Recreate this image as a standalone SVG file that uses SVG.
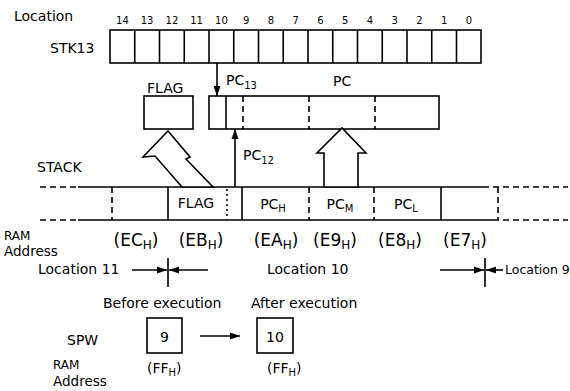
<svg xmlns="http://www.w3.org/2000/svg" width="570" height="391" viewBox="0 0 570 391">
<style>
text{font-family:"DejaVu Sans","Liberation Sans",sans-serif;fill:#000}
.t{font-size:14px}
.n{font-size:10px;text-anchor:middle}
.a{font-size:17px;text-anchor:middle}
.s{font-size:14px;text-anchor:middle}
.box{fill:#fff;stroke:#000;stroke-width:1.6}
.ln{stroke:#000;stroke-width:1.6;fill:none}
.dl{stroke:#000;stroke-width:1.6;fill:none;stroke-dasharray:6 4}
.dt{stroke:#000;stroke-width:1.6;fill:none;stroke-dasharray:2 3}
.fat{fill:#fff;stroke:#000;stroke-width:1.6;stroke-linejoin:miter}
</style>
<defs>
<marker id="ah" markerUnits="userSpaceOnUse" markerWidth="10" markerHeight="8" refX="10" refY="4" orient="auto">
<path d="M0,0.5 L10,4 L0,7.5 z" fill="#000"/>
</marker>
</defs>
<rect width="570" height="391" fill="#fff"/>

<g id="labels">
<text class="t" x="14" y="21">Location</text>
<text class="t" x="50" y="53">STK13</text>
<text class="t" x="37" y="172">STACK</text>
<text class="t" x="4" y="240" style="font-size:12px">RAM</text>
<text class="t" x="4" y="256" style="font-size:13.5px">Address</text>
<text class="t" x="67" y="345">SPW</text>
<text class="t" x="53" y="369" style="font-size:12px">RAM</text>
<text class="t" x="53" y="386" style="font-size:13.5px">Address</text>
</g>

<g id="stk13">
<g id="stk13-numbers">
<text class="n" x="122.4" y="24">14</text>
<text class="n" x="147.1" y="24">13</text>
<text class="n" x="171.9" y="24">12</text>
<text class="n" x="196.6" y="24">11</text>
<text class="n" x="221.4" y="24">10</text>
<text class="n" x="246.1" y="24">9</text>
<text class="n" x="270.9" y="24">8</text>
<text class="n" x="295.6" y="24">7</text>
<text class="n" x="320.4" y="24">6</text>
<text class="n" x="345.1" y="24">5</text>
<text class="n" x="369.9" y="24">4</text>
<text class="n" x="394.6" y="24">3</text>
<text class="n" x="419.4" y="24">2</text>
<text class="n" x="444.1" y="24">1</text>
<text class="n" x="468.9" y="24">0</text>
</g>
<rect class="box" x="110" y="30" width="371" height="33"/>
<path class="ln" d="M134.75,30V63M159.5,30V63M184.25,30V63M209,30V63M233.75,30V63M258.5,30V63M283.25,30V63M308,30V63M332.75,30V63M357.5,30V63M382.25,30V63M407,30V63M431.75,30V63M456.5,30V63"/>
</g>

<g id="flag-reg">
<text class="t" x="147" y="93">FLAG</text>
<rect class="box" x="144" y="96" width="49" height="33"/>
</g>

<g id="pc-reg">
<text class="t" x="333" y="86">PC</text>
<rect class="box" x="209" y="96" width="230" height="33"/>
<path class="ln" d="M226,96V129"/>
<path class="dl" d="M243,96V129M309,96V129M375,96V129"/>
</g>

<g id="stack">
<path class="ln" d="M78,187H483M78,220H493"/>
<path class="dl" d="M40,187H78M483,187H568M40,220H78M493,220H568"/>
<path class="dl" d="M112,187V220M309,187V220M374,187V220M498,187V220"/>
<path class="ln" d="M168,187V220M242,187V220M441,187V220"/>
<path class="dt" d="M227,189V220"/>
<text class="s" x="196" y="208">FLAG</text>
<text class="s" x="273" y="209">PC<tspan font-size="10" dy="3">H</tspan></text>
<text class="s" x="340" y="209">PC<tspan font-size="10" dy="3">M</tspan></text>
<text class="s" x="406" y="209">PC<tspan font-size="10" dy="3">L</tspan></text>
</g>

<g id="ram-addresses">
<text class="a" x="136" y="246">(EC<tspan font-size="12" dy="3">H</tspan><tspan dy="-3">)</tspan></text>
<text class="a" x="201" y="246">(EB<tspan font-size="12" dy="3">H</tspan><tspan dy="-3">)</tspan></text>
<text class="a" x="276" y="246">(EA<tspan font-size="12" dy="3">H</tspan><tspan dy="-3">)</tspan></text>
<text class="a" x="335" y="246">(E9<tspan font-size="12" dy="3">H</tspan><tspan dy="-3">)</tspan></text>
<text class="a" x="400" y="246">(E8<tspan font-size="12" dy="3">H</tspan><tspan dy="-3">)</tspan></text>
<text class="a" x="465" y="246">(E7<tspan font-size="12" dy="3">H</tspan><tspan dy="-3">)</tspan></text>
</g>

<g id="locations">
<text class="t" x="38" y="274">Location 11</text>
<text class="t" x="267" y="274">Location 10</text>
<text class="t" x="505" y="274" style="font-size:12.5px">Location 9</text>
<text class="t" x="103" y="308">Before execution</text>
<text class="t" x="251" y="308">After execution</text>
</g>

<g id="spw-before">
<rect class="box" x="147" y="318" width="35" height="35"/>
<text class="s" x="164.5" y="342">9</text>
<text class="t" x="147" y="373" style="font-size:14px">(FF<tspan font-size="10" dy="3">H</tspan><tspan dy="-3">)</tspan></text>
</g>

<g id="spw-after">
<rect class="box" x="257" y="318" width="36" height="35"/>
<text class="s" x="275" y="342">10</text>
<text class="t" x="267" y="373" style="font-size:14px">(FF<tspan font-size="10" dy="3">H</tspan><tspan dy="-3">)</tspan></text>
</g>

<g id="connectors">
<path class="ln" d="M217,63V96" marker-end="url(#ah)"/>
<text class="t" x="226" y="85">PC<tspan font-size="10" dy="4">13</tspan></text>
<path class="ln" d="M235,187V129" marker-end="url(#ah)"/>
<text class="t" x="243" y="160">PC<tspan font-size="10" dy="4">12</tspan></text>
<polygon class="fat" points="182,187 155,156 143,157 168,131 190,157 186,159 213,187"/>
<polygon class="fat" points="324,187 324,153 317,153 342,128 366,153 358,153 358,187"/>
<path class="ln" d="M168,258V287M485,258V287"/>
<path class="ln" d="M132,270H167" marker-end="url(#ah)"/>
<path class="ln" d="M208,270H169" marker-end="url(#ah)"/>
<path class="ln" d="M440,270H484" marker-end="url(#ah)"/>
<path class="ln" d="M503,270H486" marker-end="url(#ah)"/>
<path class="ln" d="M200,336H240" marker-end="url(#ah)"/>
</g>
</svg>
